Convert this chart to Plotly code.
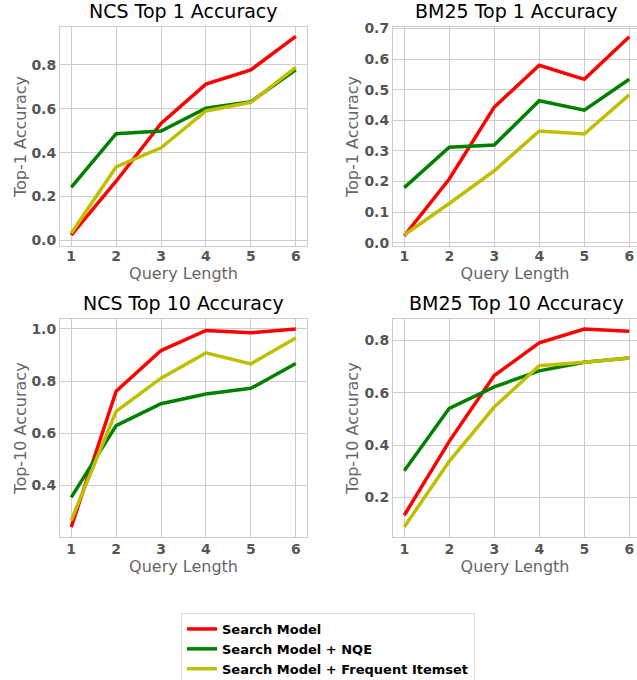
import plotly.graph_objects as go

query_length = [1, 2, 3, 4, 5, 6]
series_names = ["Search Model", "Search Model + NQE", "Search Model + Frequent Itemset"]
series_colors = ["#ff0000", "#008000", "#bfbf00"]

ncs_top1_search = [0.024, 0.270, 0.533, 0.712, 0.777, 0.929]
ncs_top1_nqe = [0.242, 0.486, 0.498, 0.602, 0.632, 0.777]
ncs_top1_fi = [0.033, 0.335, 0.422, 0.590, 0.629, 0.788]

bm25_top1_search = [0.022, 0.208, 0.443, 0.580, 0.534, 0.673]
bm25_top1_nqe = [0.180, 0.312, 0.319, 0.464, 0.433, 0.534]
bm25_top1_fi = [0.025, 0.128, 0.235, 0.365, 0.355, 0.483]

ncs_top10_search = [0.240, 0.761, 0.917, 0.994, 0.985, 1.000]
ncs_top10_nqe = [0.354, 0.629, 0.713, 0.750, 0.772, 0.867]
ncs_top10_fi = [0.266, 0.684, 0.811, 0.908, 0.866, 0.965]

bm25_top10_search = [0.132, 0.414, 0.665, 0.790, 0.843, 0.834]
bm25_top10_nqe = [0.302, 0.540, 0.622, 0.683, 0.716, 0.732]
bm25_top10_fi = [0.087, 0.338, 0.545, 0.703, 0.716, 0.732]

panels = [
    ("NCS Top 1 Accuracy", "Top-1 Accuracy", [ncs_top1_search, ncs_top1_nqe, ncs_top1_fi]),
    ("BM25 Top 1 Accuracy", "Top-1 Accuracy", [bm25_top1_search, bm25_top1_nqe, bm25_top1_fi]),
    ("NCS Top 10 Accuracy", "Top-10 Accuracy", [ncs_top10_search, ncs_top10_nqe, ncs_top10_fi]),
    ("BM25 Top 10 Accuracy", "Top-10 Accuracy", [bm25_top10_search, bm25_top10_nqe, bm25_top10_fi]),
]

W, H = 637, 680
# pixel boxes: (x0, x1, ytop, ybottom)
boxes = [(60, 307, 27, 246), (393, 637, 27, 246), (60, 307, 319, 537), (393, 637, 319, 537)]
xranges = [[0.75, 6.25], [0.75, 6.172], [0.75, 6.25], [0.75, 6.172]]
yranges = [[-0.025, 0.972], [-0.011, 0.705], [0.202, 1.038], [0.049, 0.881]]
ydticks = [0.2, 0.1, 0.2, 0.2]
ytick0 = [0.0, 0.0, 0.4, 0.2]

GRID = "#cccccc"
TICKC = "#555555"
FONT = "DejaVu Sans"

fig = go.Figure()
layout = dict(
    width=W, height=H,
    margin=dict(l=0, r=0, t=0, b=0, autoexpand=False),
    paper_bgcolor="white", plot_bgcolor="white",
    font=dict(family=FONT),
    showlegend=True,
    legend=dict(
        x=181 / W, y=1 - 613 / H, xanchor="left", yanchor="top",
        bordercolor="#dddddd", borderwidth=1, bgcolor="white",
        font=dict(family=FONT, size=13, color="black", weight="bold"),
        tracegroupgap=0, itemwidth=30,
    ),
)
annotations = []
for i, (title, ytitle, ys) in enumerate(panels):
    n = "" if i == 0 else str(i + 1)
    x0, x1, yt, yb = boxes[i]
    right = i in (1, 3)
    top = i in (0, 1)
    layout["xaxis" + n] = dict(
        domain=[x0 / W, x1 / W], range=xranges[i], anchor="y" + n,
        tickvals=query_length, showgrid=True, gridcolor=GRID, gridwidth=1,
        showline=True, linecolor=GRID, linewidth=1, mirror=True,
        zeroline=False, ticks="", automargin=False,
        ticklabelstandoff=-3 if top else -1,
        tickfont=dict(family=FONT, size=14, color=TICKC, weight="bold"),
        title=dict(text="Query Length", font=dict(family=FONT, size=16, color="#666666"), standoff=0),
    )
    layout["yaxis" + n] = dict(
        domain=[1 - yb / H, 1 - yt / H], range=yranges[i], anchor="x" + n,
        tick0=ytick0[i], dtick=ydticks[i], tickformat=".1f",
        showgrid=True, gridcolor=GRID, gridwidth=1,
        showline=True, linecolor=GRID, linewidth=1, mirror=not right,
        zeroline=False, ticks="", automargin=False,
        tickfont=dict(family=FONT, size=14, color=TICKC, weight="bold"),
        title=dict(text=ytitle, font=dict(family=FONT, size=16, color="#666666"),
                   standoff=1 if right else 0),
    )
    annotations.append(dict(
        text=title, xref="paper", yref="paper",
        x=((x0 + x1) / 2 if not right else (x0 + 640) / 2) / W, y=1 - (yt - 3) / H,
        xanchor="center", yanchor="bottom", showarrow=False,
        font=dict(family=FONT, size=19, color="black"),
    ))
    for k in range(3):
        fig.add_trace(go.Scatter(
            x=query_length, y=ys[k], mode="lines",
            line=dict(color=series_colors[k], width=3.5),
            name=series_names[k], showlegend=(i == 0),
            xaxis="x" + n, yaxis="y" + n,
        ))
layout["annotations"] = annotations
fig.update_layout(**layout)
fig.write_html(
    "out.html",
    config={"displayModeBar": False},
    post_script="document.body.style.margin='0';document.body.style.overflow='hidden';",
)
